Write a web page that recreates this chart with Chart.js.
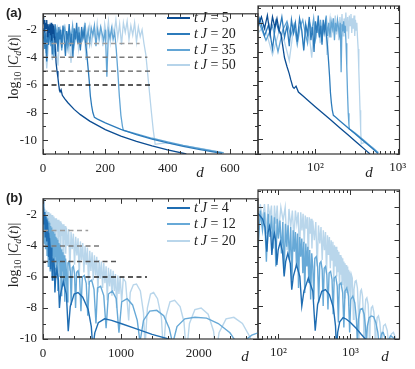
<!DOCTYPE html>
<html>
<head>
<meta charset="utf-8">
<script src="https://cdn.jsdelivr.net/npm/chart.js@4.4.1/dist/chart.umd.min.js"></script>
<style>
  body { margin: 0; background: #fff; }
  #fig { position: relative; width: 415px; height: 369px; overflow: hidden; font-family: 'Liberation Serif', serif; color: #222; }
  #fig canvas { position: absolute; left: 0; }
  .lbl { position: absolute; white-space: nowrap; line-height: 1; }
  .tag { font-family: 'Liberation Sans', sans-serif; font-weight: bold; font-size: 13px; }
  .ylab { font-size: 14px; transform: translate(-50%, -50%) rotate(-90deg); }
  .ylab sub { font-size: 10px; }
  .dlab { font-size: 15px; font-style: italic; transform: translate(-50%, -50%); }
  .leg-line { position: absolute; height: 2px; width: 23px; left: 167px; }
  .leg-txt { position: absolute; left: 194px; font-size: 14px; line-height: 16px; white-space: nowrap; }
</style>
</head>
<body>
<div id="fig">
  <div class="lbl tag" style="left:6px;top:6px">(a)</div>
  <div class="lbl tag" style="left:6px;top:191px">(b)</div>
  <div class="lbl ylab" style="left:15px;top:67px">log<sub>10</sub> |<i>C<sub>d</sub></i>(<i>t</i>)|</div>
  <div class="lbl ylab" style="left:15px;top:255px">log<sub>10</sub> |<i>C<sub>d</sub></i>(<i>t</i>)|</div>
  <div class="lbl dlab" style="left:200px;top:172px">d</div>
  <div class="lbl dlab" style="left:369px;top:172px">d</div>
  <div class="lbl dlab" style="left:245px;top:356px">d</div>
  <div class="lbl dlab" style="left:385px;top:356px">d</div>
</div>
<script>
// ---- panel (a): tJ = 5, 20, 35, 50 ----
const aLabels = ['5', '20', '35', '50'];
const aColors = ['#0b4d93', '#2c7bbb', '#62a5d5', '#b6d4ea'];

const aD5 = [0, 2, 4, 6, 8, 10, 12, 14, 16, 18,
  20, 22, 24, 26, 28, 30, 32, 34, 36, 38,
  40, 42, 45, 48, 50, 53, 55, 58, 62, 70,
  80, 100, 120, 150, 200, 250, 300, 350, 400, 460];
const aV5 = [-1.0, -1.6, -1.3, -2.2, -1.5, -1.9, -1.3, -2.5, -1.6, -2.0,
  -2.2, -1.6, -2.4, -1.5, -2.8, -1.6, -2.3, -1.7, -2.5, -2.75,
  -3.6, -4.4, -5.0, -5.5, -5.9, -6.4, -6.5, -6.35, -6.75, -7.01,
  -7.29, -7.77, -8.15, -8.62, -9.23, -9.7, -10.09, -10.42, -10.7, -11.0];

const aD20 = [0, 3, 6, 9, 12, 15, 18, 21, 24, 27,
  30, 33, 36, 39, 42, 45, 48, 51, 54, 57,
  60, 64, 68, 72, 76, 80, 84, 88, 92, 96,
  100, 104, 108, 112, 116, 120, 124, 128, 132, 136,
  140, 144, 148, 152, 156, 160, 165, 175, 200, 250,
  300, 350, 400, 450, 500, 575];
const aV20 = [-2.6, -1.9, -3.4, -2.2, -4.3, -2.0, -3.1, -1.7, -2.9, -2.1,
  -3.8, -1.9, -2.6, -1.6, -3.0, -2.2, -3.6, -1.8, -2.7, -2.0,
  -3.3, -1.7, -2.5, -3.9, -2.1, -2.8, -1.6, -3.2, -2.3, -4.0,
  -1.9, -2.7, -1.5, -3.0, -2.2, -3.5, -1.8, -2.6, -2.0, -2.9,
  -3.6, -4.6, -5.6, -6.8, -7.5, -8.0, -8.35, -8.47, -8.75, -9.22,
  -9.6, -9.92, -10.2, -10.44, -10.66, -10.96];

const aD35 = [0, 5, 10, 15, 20, 25, 30, 35, 40, 45,
  50, 55, 60, 65, 70, 75, 80, 85, 90, 95,
  100, 105, 110, 115, 120, 125, 130, 135, 140, 145,
  150, 155, 160, 165, 170, 175, 180, 185, 190, 195,
  200, 205, 210, 215, 220, 225, 230, 235, 240, 245,
  250, 255, 258, 265, 300, 350, 400, 450, 500, 580];
const aV35 = [-3.0, -2.0, -3.7, -2.4, -1.8, -3.2, -2.2, -4.0, -2.5, -1.9,
  -2.9, -2.1, -3.5, -2.3, -1.8, -2.7, -3.4, -2.0, -2.6, -1.7,
  -3.1, -2.2, -2.8, -1.8, -3.3, -2.1, -2.5, -1.5, -2.9, -2.0,
  -3.0, -1.9, -2.4, -1.7, -3.2, -2.0, -2.6, -1.8, -2.3, -2.8,
  -2.0, -5.4, -2.1, -2.6, -1.9, -2.7, -2.2, -3.4, -5.0, -6.8,
  -8.2, -9.0, -9.3, -9.33, -9.55, -9.86, -10.13, -10.38, -10.6, -10.92];

const aD50 = [0, 6, 12, 18, 24, 30, 36, 42, 48, 54,
  60, 66, 72, 78, 84, 90, 96, 102, 108, 114,
  120, 126, 132, 138, 144, 150, 156, 162, 168, 174,
  180, 186, 192, 198, 204, 210, 216, 222, 228, 234,
  240, 246, 252, 258, 264, 270, 276, 282, 288, 294,
  300, 306, 312, 318, 324, 330, 336, 342, 348, 354,
  360, 375, 400, 450, 500, 580];
const aV50 = [-3.5, -2.5, -4.8, -3.0, -2.2, -4.2, -2.6, -3.3, -4.6, -2.4,
  -3.0, -2.0, -3.7, -2.3, -2.8, -4.4, -2.1, -2.9, -1.9, -3.4,
  -2.2, -2.7, -1.8, -4.2, -2.4, -1.7, -3.0, -2.0, -2.6, -1.5,
  -2.8, -1.9, -3.2, -1.6, -2.5, -1.4, -2.9, -1.7, -2.3, -1.3,
  -2.6, -1.6, -3.1, -1.5, -2.2, -1.4, -2.7, -1.7, -2.4, -1.5,
  -2.9, -1.8, -2.5, -2.0, -3.0, -3.8, -5.2, -6.6, -8.0, -9.3,
  -10.3, -10.25, -10.2, -10.4, -10.58, -10.9];

const aCutY = [-3, -4, -5, -6];
const aCutEnd = [310, 335, 345, 345];
const cutColors = ['#9c9c9c', '#7a7a7a', '#555555', '#222222'];

// ---- panel (b): tJ = 4, 12, 20 ----
const bLabels = ['4', '12', '20'];
const bColors = ['#1f6db2', '#67a9d7', '#b9d6eb'];

const bD4 = [0, 6, 12, 17, 23, 29, 34, 40, 46, 50,
  55, 60, 65, 69, 72, 75, 78, 81, 84, 88,
  92, 95, 99, 106, 114, 120, 126, 135, 146, 153,
  161, 178, 198, 211, 226, 260, 300, 324, 350, 400,
  450, 510, 580, 620, 640, 665, 710, 790, 880, 1000,
  1200, 1400, 1650];
const bV4 = [-0.95, -1.6, -2.6, -1.8, -2.1, -3.4, -2.1, -2.3, -3.7, -2.3,
  -2.5, -2.7, -3.2, -4.7, -3.5, -3.15, -3.5, -4.9, -4.0, -3.6,
  -4.1, -5.5, -4.6, -4.1, -4.7, -6.2, -5.3, -4.8, -5.4, -7.0,
  -6.2, -5.5, -6.2, -8.0, -7.1, -6.3, -7.1, -9.5, -7.9, -7.1,
  -7.0, -7.3, -8.1, -9.2, -10.6, -9.6, -8.95, -8.7, -8.8, -9.0,
  -9.35, -9.7, -10.05];

const bD12 = [0, 3, 6, 9, 12, 15, 18, 21, 24, 27,
  30, 33, 36, 39, 42, 45, 48, 52, 56, 60,
  64, 68, 72, 76, 80, 84, 88, 92, 96, 100,
  105, 110, 115, 120, 125, 130, 136, 142, 148, 154,
  160, 166, 172, 178, 184, 190, 197, 204, 211, 218,
  225, 232, 240, 248, 256, 264, 272, 280, 290, 300,
  310, 320, 335, 350, 362, 375, 390, 405, 418, 432,
  450, 470, 487, 505, 530, 555, 575, 595, 625, 655,
  680, 700, 740, 780, 810, 840, 890, 940, 975, 1010,
  1080, 1150, 1210, 1245, 1290, 1370, 1460, 1550, 1620, 1665,
  1720, 1820, 1950, 2100, 2250, 2400, 2480, 2530, 2590, 2680,
  2760, 2850, 3050, 3200, 3350, 3600, 3900, 4200, 4400, 4600,
  4800];
const bV12 = [-1.5, -3.0, -1.7, -2.6, -1.8, -3.8, -1.9, -2.8, -1.8, -3.3,
  -2.0, -4.2, -2.0, -2.9, -2.1, -3.6, -2.1, -4.6, -2.2, -3.4,
  -2.3, -5.3, -2.4, -3.8, -2.5, -4.5, -2.6, -5.6, -2.7, -3.9,
  -2.8, -4.8, -2.9, -6.0, -3.0, -4.4, -3.1, -5.2, -3.2, -6.4,
  -3.4, -4.7, -3.5, -5.6, -3.6, -6.9, -3.8, -5.0, -3.9, -6.0,
  -4.1, -7.2, -4.2, -5.6, -4.4, -6.6, -4.6, -7.6, -4.8, -5.6,
  -7.6, -5.1, -5.0, -5.6, -7.8, -5.4, -5.3, -5.8, -8.0, -5.7,
  -5.6, -6.1, -8.2, -6.0, -5.9, -6.4, -8.5, -6.3, -6.2, -6.8,
  -9.0, -6.7, -6.6, -7.2, -9.3, -7.1, -6.9, -7.4, -9.6, -7.6,
  -7.4, -7.8, -8.8, -10.2, -8.8, -8.2, -8.15, -8.5, -9.3, -10.3,
  -9.2, -8.7, -8.6, -8.65, -9.0, -9.6, -10.2, -10.8, -10.1, -9.75,
  -9.6, -9.6, -10.0, -10.8, -10.1, -9.8, -9.9, -10.3, -10.9, -10.2,
  -10.0];

const bD20 = [0, 4, 8, 12, 16, 20, 24, 28, 32, 36,
  40, 44, 48, 52, 56, 60, 64, 68, 72, 76,
  80, 84, 88, 92, 96, 100, 108, 116, 124, 132,
  140, 148, 156, 164, 172, 180, 188, 196, 204, 212,
  220, 228, 236, 244, 252, 260, 268, 276, 284, 292,
  300, 315, 330, 345, 360, 375, 390, 405, 420, 435,
  450, 465, 480, 495, 510, 525, 540, 555, 570, 585,
  600, 615, 630, 645, 660, 675, 690, 705, 720, 735,
  750, 765, 780, 795, 810, 825, 840, 855, 870, 885,
  900, 915, 930, 945, 960, 975, 990, 1010, 1030, 1060,
  1100, 1120, 1160, 1200, 1250, 1290, 1310, 1340, 1380, 1420,
  1470, 1520, 1545, 1580, 1630, 1690, 1760, 1810, 1840, 1880,
  1950, 2030, 2120, 2190, 2220, 2260, 2350, 2450, 2560, 2660,
  2700, 2750, 2880, 3050, 3250, 3400, 3460, 3520, 3700, 3950,
  4200, 4450, 4520, 4600, 4800];
const bV20 = [-1.6, -3.2, -1.7, -2.5, -1.6, -3.9, -1.7, -2.7, -1.7, -3.4,
  -1.8, -2.4, -1.7, -4.2, -1.8, -2.8, -1.8, -3.6, -1.8, -2.6,
  -1.9, -4.5, -1.9, -3.0, -1.9, -3.6, -2.0, -2.8, -2.0, -4.6,
  -2.1, -3.2, -2.2, -3.9, -2.2, -3.0, -2.3, -5.0, -2.3, -3.4,
  -2.4, -4.2, -2.5, -3.3, -2.6, -5.3, -2.6, -3.6, -2.7, -4.5,
  -2.8, -4.0, -2.9, -5.6, -3.1, -4.2, -3.2, -5.2, -3.4, -4.6,
  -3.5, -6.0, -3.7, -4.9, -3.8, -5.7, -4.0, -5.2, -4.1, -6.5,
  -4.3, -5.6, -4.4, -6.2, -4.6, -5.9, -4.7, -7.0, -4.9, -6.1,
  -5.0, -6.7, -5.1, -6.4, -5.3, -7.5, -5.4, -6.6, -5.5, -7.2,
  -5.6, -6.9, -5.8, -8.0, -5.9, -7.1, -6.0, -7.6, -6.1, -6.3,
  -8.8, -7.0, -6.5, -6.45, -6.9, -8.3, -10.5, -8.0, -7.1, -7.0,
  -7.4, -8.6, -10.8, -8.5, -7.6, -7.5, -7.9, -8.9, -11.0, -9.0,
  -8.1, -8.0, -8.4, -9.5, -11.0, -9.6, -8.7, -8.6, -9.0, -9.9,
  -11.0, -10.0, -9.2, -9.1, -9.5, -10.5, -11.0, -10.4, -9.7, -9.6,
  -9.9, -10.8, -11.0, -10.6, -10.1];

const bCutY = [-3, -4, -5, -6];
const bCutEnd = [580, 735, 965, 1335];

// tick label positions
const aXLabels = [0, 200, 400, 600];
const bXLabels = [0, 1000, 2000];
const logLabels = [100, 1000];
const yLabels = [-10, -8, -6, -4, -2];

// ---- helpers ----
const fig = document.getElementById('fig');
const tickFont = { family: 'Liberation Serif', size: 13 };
const sup = { 1: '\u00b9', 2: '\u00b2', 3: '\u00b3', 4: '\u2074' };

function pts(ds, vs, logx) {
  const out = [];
  ds.forEach((d, i) => { if (!logx || d > 0) out.push({ x: d, y: vs[i] }); });
  return out;
}

function linTicks(lo, hi, step, majorEvery) {
  const out = [];
  for (let v = Math.ceil(lo / step) * step; v <= hi + 1e-9; v += step) {
    out.push([v, Math.abs(v % majorEvery) < 1e-9 ? 5 : 3]);
  }
  return out;
}

function logTicks(lo, hi) {
  const out = [];
  for (let e = 0; e <= 4; e++) {
    for (let k = 1; k <= 9; k++) {
      const v = k * Math.pow(10, e);
      if (v >= lo && v <= hi) out.push([v, k === 1 ? 5 : 3]);
    }
  }
  return out;
}

// frame on all four sides with ticks pointing inwards
const frameTicks = {
  id: 'frameTicks',
  afterDatasetsDraw(chart, args, o) {
    const { ctx, chartArea: a, scales: { x, y } } = chart;
    ctx.save();
    ctx.strokeStyle = '#333';
    ctx.lineWidth = 1;
    ctx.beginPath();
    o.xt.forEach(t => {
      const p = Math.round(x.getPixelForValue(t[0])) + 0.5;
      ctx.moveTo(p, a.bottom); ctx.lineTo(p, a.bottom - t[1]);
      ctx.moveTo(p, a.top); ctx.lineTo(p, a.top + t[1]);
    });
    o.yt.forEach(t => {
      const p = Math.round(y.getPixelForValue(t[0])) + 0.5;
      ctx.moveTo(a.left, p); ctx.lineTo(a.left + t[1], p);
      ctx.moveTo(a.right, p); ctx.lineTo(a.right - t[1], p);
    });
    ctx.stroke();
    ctx.lineWidth = 1.2;
    ctx.strokeRect(a.left, a.top, a.right - a.left, a.bottom - a.top);
    ctx.restore();
  }
};

function seriesSets(list, colors, logx, width) {
  return list.map((s, i) => ({
    label: s.label,
    data: pts(s.d, s.v, logx),
    borderColor: colors[i],
    borderWidth: width,
    pointRadius: 0,
    tension: 0,
    order: i + 10
  }));
}

function cutSets(ys, ends) {
  return ys.map((yv, i) => ({
    label: 'cut' + yv,
    data: [{ x: 0, y: yv }, { x: ends[i], y: yv }],
    borderColor: cutColors[i],
    borderWidth: 1.4,
    borderDash: [5, 3.5],
    pointRadius: 0,
    order: 1
  }));
}

function panel(top, h, cfg) {
  const cv = document.createElement('canvas');
  cv.width = 415; cv.height = h;
  cv.style.top = top + 'px';
  fig.insertBefore(cv, fig.firstChild);
  return new Chart(cv, {
    type: 'line',
    data: { datasets: cfg.datasets },
    options: {
      responsive: false, animation: false, events: [],
      layout: { padding: cfg.pad },
      plugins: { legend: { display: false }, tooltip: { enabled: false }, frameTicks: { xt: cfg.xt, yt: cfg.yt } },
      scales: { x: cfg.x, y: cfg.y }
    },
    plugins: [frameTicks]
  });
}

const noGrid = { display: false, drawTicks: false };

function xLin(min, max, labels, h) {
  return {
    type: 'linear', min: min, max: max,
    afterBuildTicks: s => { s.ticks = labels.map(v => ({ value: v })); },
    afterFit: s => { s.height = h; },
    grid: noGrid, border: { display: false },
    ticks: { autoSkip: false, maxRotation: 0, padding: 7, color: '#222', font: tickFont, callback: v => String(v) }
  };
}

function xLog(min, max, h) {
  return {
    type: 'logarithmic', min: min, max: max,
    afterBuildTicks: s => { s.ticks = logLabels.map(v => ({ value: v })); },
    afterFit: s => { s.height = h; },
    grid: noGrid, border: { display: false },
    ticks: {
      autoSkip: false, maxRotation: 0, padding: 6, color: '#222', font: tickFont,
      callback: v => '10' + sup[Math.round(Math.log10(v))]
    }
  };
}

function yLeft(min, max) {
  return {
    type: 'linear', min: min, max: max,
    afterBuildTicks: s => { s.ticks = yLabels.map(v => ({ value: v })); },
    afterFit: s => { s.width = 43; },
    grid: noGrid, border: { display: false },
    ticks: { autoSkip: false, padding: 6, color: '#222', font: tickFont, callback: v => String(v) }
  };
}

function yHidden(min, max) {
  return { type: 'linear', min: min, max: max, display: false };
}

const aSeries = [
  { label: aLabels[0], d: aD5, v: aV5 },
  { label: aLabels[1], d: aD20, v: aV20 },
  { label: aLabels[2], d: aD35, v: aV35 },
  { label: aLabels[3], d: aD50, v: aV50 }
];
const bSeries = [
  { label: bLabels[0], d: bD4, v: bV4 },
  { label: bLabels[1], d: bD12, v: bV12 },
  { label: bLabels[2], d: bD20, v: bV20 }
];

// (a) linear d
panel(0, 185, {
  pad: { left: 0, right: 157, top: 6, bottom: 0 },
  datasets: cutSets(aCutY, aCutEnd).concat(seriesSets(aSeries, aColors, false, 1.3)),
  x: xLin(0, 690, aXLabels, 31), y: yLeft(-11, -0.85),
  xt: linTicks(0, 690, 40, 200), yt: linTicks(-11, -1, 1, 2)
});
// (a) log d
panel(0, 185, {
  pad: { left: 258, right: 15.5, top: 6, bottom: 0 },
  datasets: seriesSets(aSeries, aColors, true, 1.3),
  x: xLog(20, 1050, 31), y: yHidden(-11, -0.85),
  xt: logTicks(20, 1050), yt: linTicks(-11, -1, 1, 2)
});
// (b) linear d
panel(185, 184, {
  pad: { left: 0, right: 157, top: 5, bottom: 0 },
  datasets: cutSets(bCutY, bCutEnd).concat(seriesSets(bSeries, bColors, false, 1.4)),
  x: xLin(0, 2760, bXLabels, 30), y: yLeft(-10, -0.95),
  xt: linTicks(0, 2760, 200, 1000), yt: linTicks(-10, -1, 1, 2)
});
// (b) log d
panel(185, 184, {
  pad: { left: 258, right: 15.5, top: 5, bottom: 0 },
  datasets: seriesSets(bSeries, bColors, true, 1.4),
  x: xLog(52, 4800, 30), y: yHidden(-10, -0.95),
  xt: logTicks(52, 4800), yt: linTicks(-10, -1, 1, 2)
});

// legends
function legend(labels, colors, rows) {
  labels.forEach((lab, i) => {
    const ln = document.createElement('div');
    ln.className = 'leg-line';
    ln.style.top = (rows[i] - 1) + 'px';
    ln.style.background = colors[i];
    fig.appendChild(ln);
    const tx = document.createElement('div');
    tx.className = 'leg-txt';
    tx.style.top = (rows[i] - 8) + 'px';
    tx.innerHTML = '<i>t</i>&thinsp;<i>J</i> = ' + lab;
    fig.appendChild(tx);
  });
}
legend(aLabels, aColors, [18, 34, 49.5, 65]);
legend(bLabels, bColors, [207.5, 224, 240.5]);
</script>
</body>
</html>
